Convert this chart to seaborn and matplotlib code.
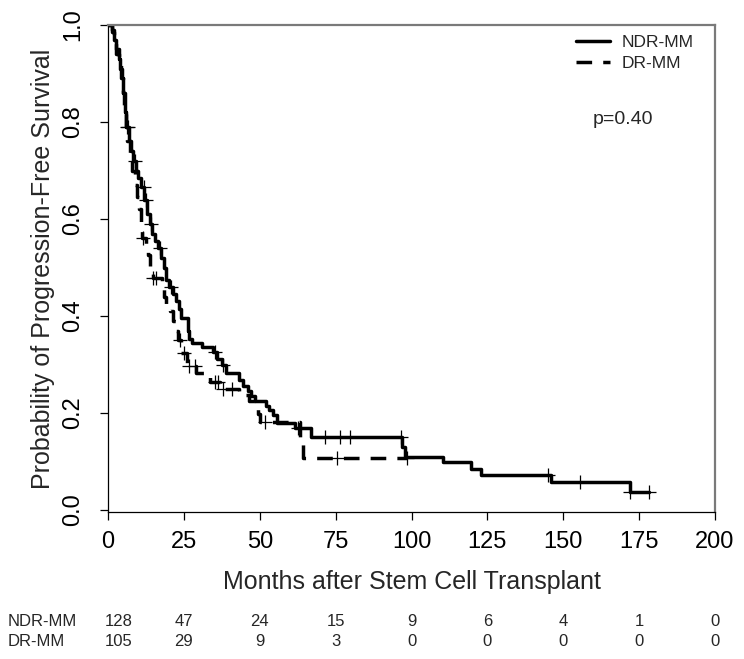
import numpy as np
import pandas as pd
import matplotlib
matplotlib.use("Agg")
import matplotlib.pyplot as plt
import matplotlib.transforms as mtransforms
from matplotlib.lines import Line2D
import seaborn as sns

# ---------------- data ----------------
groups = ["NDR-MM", "DR-MM"]

ndr_times = [0, 1.2, 2.0, 2.8, 3.5, 4.0, 4.5, 5.0, 5.5, 6.0, 6.8, 7.5, 8.3, 9.2, 10.0,
             11.0, 12.0, 13.0, 13.8, 14.6, 15.5, 16.5, 17.5, 18.3, 19.0, 20.0, 21.5,
             22.5, 23.5, 24.2, 26.2, 26.8, 27.8, 31.0, 34.6, 36.0, 37.5, 39.0, 43.2,
             44.5, 46.0, 47.2, 48.4, 52.0, 53.0, 54.5, 55.8, 61.5, 67.0, 97.0, 98.0,
             110.5, 119.5, 123.0, 146.0, 172.0]
ndr_surv = [1.0, 0.99, 0.97, 0.95, 0.93, 0.91, 0.89, 0.86, 0.82, 0.79, 0.76, 0.74, 0.72,
            0.70, 0.685, 0.665, 0.64, 0.61, 0.59, 0.57, 0.555, 0.54, 0.52, 0.50, 0.475,
            0.46, 0.445, 0.43, 0.415, 0.395, 0.37, 0.352, 0.344, 0.337, 0.325, 0.312,
            0.30, 0.282, 0.268, 0.255, 0.245, 0.235, 0.225, 0.214, 0.206, 0.195, 0.18,
            0.17, 0.15, 0.13, 0.11, 0.099, 0.085, 0.073, 0.058, 0.038]
ndr_end = 178.3
ndr_cens = [6.1, 6.6, 8.8, 11.9, 12.6, 14.3, 17.0, 20.9, 35.2, 38.0, 62.7, 71.4, 76.4,
            79.7, 96.7, 145.0, 155.5, 172.0, 178.3]

dr_times = [0, 1.2, 2.0, 2.8, 3.5, 4.2, 4.8, 5.3, 5.8, 6.4, 7.2, 8.0, 8.8, 9.4, 10.2,
            10.8, 11.3, 12.5, 13.3, 14.0, 14.8, 17.8, 18.5, 19.2, 20.5, 21.5, 22.3,
            23.0, 24.2, 26.0, 29.0, 33.5, 37.0, 43.0, 46.5, 48.5, 49.3, 50.0, 63.3, 64.3]
dr_surv = [1.0, 0.985, 0.965, 0.94, 0.92, 0.89, 0.86, 0.82, 0.79, 0.76, 0.73, 0.70, 0.67,
           0.645, 0.62, 0.59, 0.56, 0.545, 0.525, 0.50, 0.478, 0.455, 0.44, 0.425, 0.41,
           0.39, 0.37, 0.35, 0.323, 0.297, 0.282, 0.265, 0.25, 0.238, 0.225, 0.21, 0.198,
           0.182, 0.145, 0.107]
dr_end = 98.4
dr_cens = [11.6, 14.8, 15.8, 23.6, 25.0, 26.7, 28.8, 35.4, 36.3, 38.0, 41.0, 51.7, 75.3, 98.4]

p_label = "p=0.40"
risk_times = [0, 25, 50, 75, 100, 125, 150, 175, 200]
ndr_risk = [128, 47, 24, 15, 9, 6, 4, 1, 0]
dr_risk = [105, 29, 9, 3, 0, 0, 0, 0, 0]
xticks = [0, 25, 50, 75, 100, 125, 150, 175, 200]
yticks = [0.0, 0.2, 0.4, 0.6, 0.8, 1.0]
xlabel = "Months after Stem Cell Transplant"
ylabel = "Probability of Progression-Free Survival"

# ---------------- tables ----------------
curve_rows = []
cens_rows = []
for g, t, s, end, cens in [(groups[0], ndr_times, ndr_surv, ndr_end, ndr_cens),
                           (groups[1], dr_times, dr_surv, dr_end, dr_cens)]:
    for ti, si in zip(t, s):
        curve_rows.append((g, ti, si))
    curve_rows.append((g, end, s[-1]))
    tt = np.asarray(t)
    for c in cens:
        idx = np.searchsorted(tt, c, side="right") - 1
        cens_rows.append((g, c, s[idx]))
curves = pd.DataFrame(curve_rows, columns=["group", "time", "surv"])
censored = pd.DataFrame(cens_rows, columns=["group", "time", "surv"])

# ---------------- style ----------------
sns.set_theme(style="white")
plt.rcParams["font.family"] = ["Liberation Sans", "DejaVu Sans"]

W, H = 744, 659
fig = plt.figure(figsize=(W / 100, H / 100), dpi=100)
ax = fig.add_axes([108 / W, 1 - 512 / H, (715 - 108) / W, (512 - 25) / H])

dash_map = {groups[0]: "", groups[1]: (4.5, 3.2)}
sns.lineplot(data=curves, x="time", y="surv", style="group", style_order=groups,
             dashes=dash_map, color="black", linewidth=2.5, drawstyle="steps-post",
             estimator=None, sort=False, legend=False, ax=ax)
sns.scatterplot(data=censored, x="time", y="surv", marker="+", s=110, color="black",
                linewidth=0.9, legend=False, ax=ax, zorder=3)

ax.set_xlim(0, 200)
ax.set_ylim(-0.004, 1.0)
ax.set_xticks(xticks)
ax.set_xticklabels([str(v) for v in xticks])
ax.set_yticks(yticks)
ax.set_yticklabels([f"{v:.1f}" for v in yticks], rotation=90, va="center")
ax.tick_params(axis="both", direction="out", length=6, width=0.9, colors="black",
               labelsize=17, bottom=True, left=True)
ax.tick_params(axis="x", pad=8)
ax.tick_params(axis="y", pad=11)
ax.set_xlabel(xlabel, fontsize=18, labelpad=12)
ax.set_ylabel(ylabel, fontsize=18, labelpad=5)

for side in ["top", "right"]:
    ax.spines[side].set_color("#7a7a7a")
    ax.spines[side].set_linewidth(1.6)
for side in ["left", "bottom"]:
    ax.spines[side].set_color("black")
    ax.spines[side].set_linewidth(0.9)

# legend
handles = [Line2D([], [], color="black", linewidth=2.5, linestyle="-"),
           Line2D([], [], color="black", linewidth=2.5, dashes=(4.5, 3.2))]
ax.legend(handles, groups, loc="upper left", bbox_to_anchor=(576 / W, 1 - 35 / H),
          bbox_transform=fig.transFigure, frameon=False, fontsize=12.5,
          handlelength=1.95, handletextpad=0.7, labelspacing=0.35, borderpad=0,
          borderaxespad=0)

fig.text(623 / W, 1 - 120 / H, p_label, fontsize=14, ha="center", va="center")

# numbers at risk
trans = mtransforms.blended_transform_factory(ax.transData, fig.transFigure)
for label, risk, ypix in [(groups[0], ndr_risk, 622), (groups[1], dr_risk, 642)]:
    fig.text(8 / W, 1 - ypix / H, label, fontsize=12, ha="left", va="center")
    for t, n in zip(risk_times, risk):
        xpos = t if t > 0 else 3.5
        ax.text(xpos, 1 - ypix / H, str(n), transform=trans, fontsize=12,
                ha="center", va="center", clip_on=False)

fig.savefig("out.png", dpi=100)
